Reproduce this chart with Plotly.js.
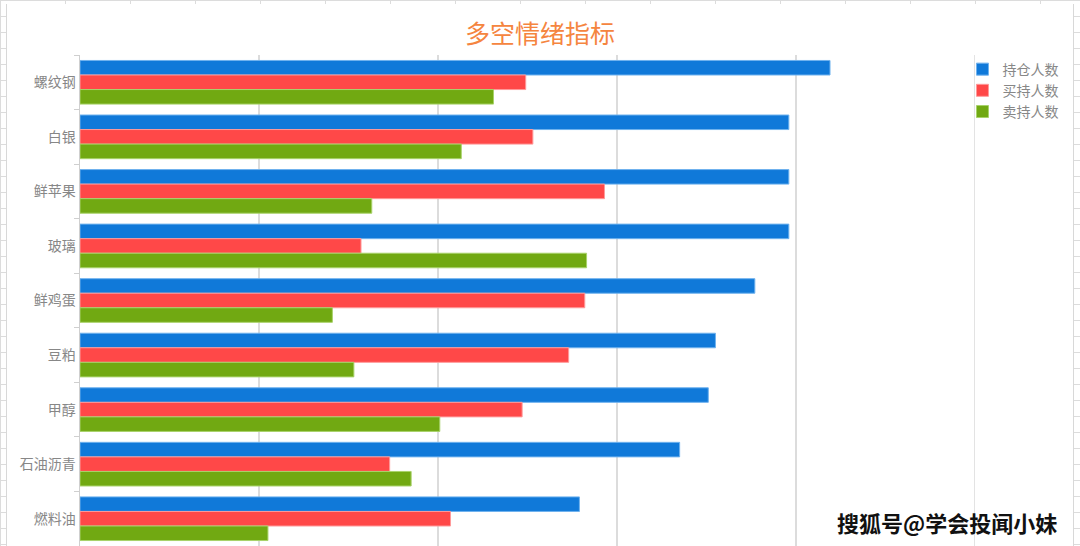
<!DOCTYPE html>
<html>
<head>
<meta charset="utf-8">
<script src="https://cdn.plot.ly/plotly-3.0.1.min.js"></script>
<style>
  html, body { margin: 0; padding: 0; }
  body {
    width: 1080px; height: 546px; overflow: hidden; position: relative;
    /* spreadsheet grid behind the chart box */
    background-color: #fff;
    background-image:
      linear-gradient(to bottom, #dcdcdc 1px, transparent 1px),
      linear-gradient(to right, #dcdcdc 1px, transparent 1px);
    background-size: 100% 16px, 65px 100%;
  }
  #chart {
    position: absolute; left: 6px; top: 4px; width: 1068px; height: 542px;
    background: #fff; border-left: 1px solid #d8d8d8; border-right: 1px solid #d8d8d8;
    box-sizing: border-box;
  }
</style>
</head>
<body>
<div id="chart"></div>
<script>
// ── 多空情绪指标 ──────────────────────────────────────────────
const categories = ['螺纹钢', '白银', '鲜苹果', '玻璃', '鲜鸡蛋', '豆粕', '甲醇', '石油沥青', '燃料油'];
const holders    = [419, 396, 396, 396, 377, 355, 351, 335, 279];   // 持仓人数
const longs      = [249, 253, 293, 157, 282, 273, 247, 173, 207];   // 买持人数
const shorts     = [231, 213, 163, 283, 141, 153, 201, 185, 105];   // 卖持人数

const C = { azul: '#1079d9', rojo: '#ff4848', verde: '#71a912' };
const font = "'Noto Sans CJK SC', 'Noto Sans', sans-serif";
const xMax = 500;

const serie = (name, x, color, line) => ({
    type: 'bar', orientation: 'h', name,
    y: categories, x,
    marker: { color, line: { color: line, width: 1 } },
    hovertemplate: '<b>%{y}</b><br>' + name + ': %{x}<extra></extra>',
});

Plotly.newPlot('chart', [
    serie('持仓人数', holders, C.azul, '#6fb2ee'),
    serie('买持人数', longs, C.rojo, '#ff9a9a'),
    serie('卖持人数', shorts, C.verde, '#a8d26a'),
], {
    width: 1066, height: 542,
    paper_bgcolor: '#fff', plot_bgcolor: '#fff',
    font: { family: font, size: 14, color: '#878787' },
    title: {
        text: '多空情绪指标', font: { family: font, size: 25, color: '#f5853f' },
        x: 0.5, xanchor: 'center', y: 0.944, yanchor: 'middle', yref: 'container',
    },
    barmode: 'group', bargap: 0.2, bargroupgap: 0,
    margin: { t: 51, r: 98, b: 0, l: 73, autoexpand: false },
    xaxis: {
        range: [0, xMax], dtick: 100, showticklabels: false,
        showgrid: true, gridcolor: '#dcdcdc', gridwidth: 1.6, zeroline: false,
    },
    yaxis: {
        autorange: 'reversed', showline: true, linecolor: '#cfcfcf', linewidth: 1.5,
        ticks: 'outside', tickson: 'boundaries', ticklen: 5, tickcolor: '#cfcfcf',
        tickfont: { family: font, size: 14, color: '#878787' }, showgrid: false,
    },
    // última línea de cuadrícula (borde derecho del área)
    shapes: [{
        type: 'line', xref: 'x', yref: 'paper', x0: xMax, x1: xMax, y0: 0, y1: 1,
        line: { color: '#dcdcdc', width: 1.6 }, layer: 'below',
    }],
    showlegend: true,
    legend: {
        x: 0.986, xanchor: 'left', y: 1.003, yanchor: 'top', bgcolor: 'rgba(0,0,0,0)',
        font: { family: font, size: 14, color: '#878787' }, tracegroupgap: 0,
    },
    annotations: [{
        text: '<b>搜狐号@学会投闻小妹</b>', xref: 'paper', yref: 'paper',
        x: 0.969, y: 0.048, xanchor: 'center', yanchor: 'middle', showarrow: false,
        font: { family: font, size: 22, color: '#111' },
    }],
}, { displayModeBar: false, staticPlot: true });
</script>
</body>
</html>
